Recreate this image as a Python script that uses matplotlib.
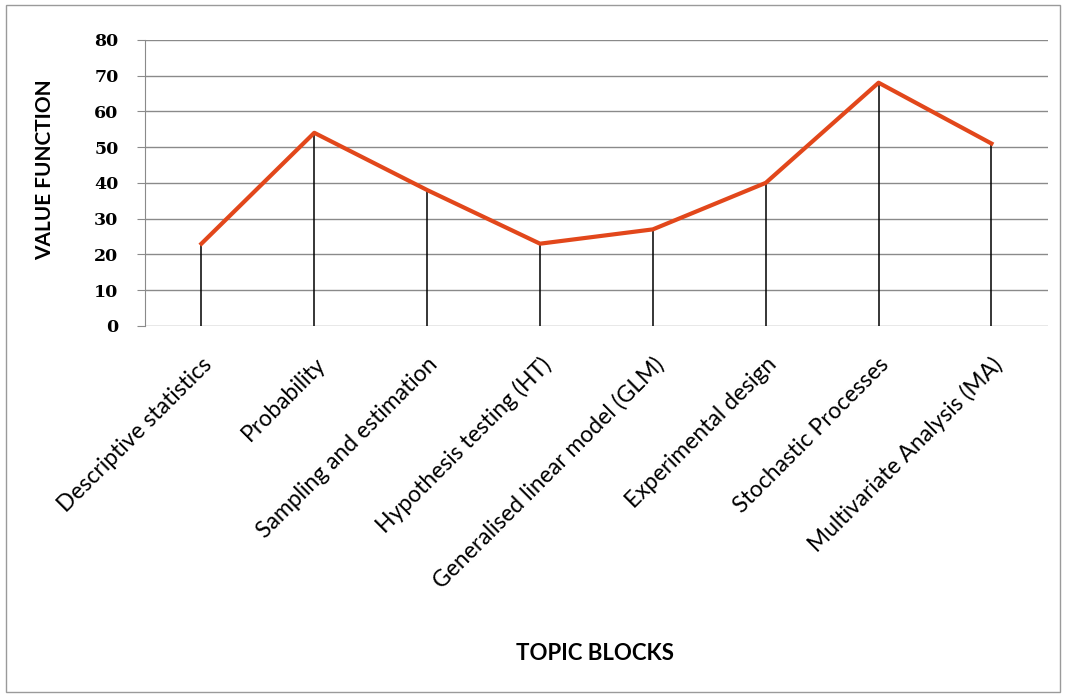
import numpy as np
import matplotlib.pyplot as plt
from matplotlib.patches import Rectangle

# данные графика
topics = ['Descriptive statistics', 'Probability', 'Sampling and estimation',
          'Hypothesis testing (HT)', 'Generalised linear model (GLM)',
          'Experimental design', 'Stochastic Processes', 'Multivariate Analysis (MA)']
values = [23, 54, 38, 23, 27, 40, 68, 51]
yticks = [0, 10, 20, 30, 40, 50, 60, 70, 80]

fig = plt.figure(figsize=(10.66, 6.98), dpi=100, facecolor='white')
ax = fig.add_axes([0.136, 0.533, 0.847, 0.41])

x = np.arange(len(topics))
# вертикальные линии от точки до нуля
ax.vlines(x, 0, values, color='black', linewidth=1.1, zorder=2)
ax.plot(x, values, color='#E2471B', linewidth=3.0, solid_joinstyle='round', zorder=3)

ax.set_xlim(-0.5, len(topics) - 0.5)
ax.set_ylim(0, 80)
ax.set_yticks(yticks)
ax.set_yticklabels([str(v) for v in yticks], fontfamily='DejaVu Serif',
                   fontweight='bold', fontsize=12.5)
ax.yaxis.grid(True, color='#8a8a8a', linewidth=1)
ax.set_axisbelow(True)
ax.tick_params(axis='y', length=6, color='#8a8a8a', pad=13)
ax.tick_params(axis='x', length=0, pad=20)
for s in ['top', 'right', 'bottom']:
    ax.spines[s].set_visible(False)
ax.spines['left'].set_color('#8a8a8a')

ax.set_xticks(x)
ax.set_xticklabels(topics, rotation=45, ha='right', rotation_mode='anchor',
                   fontfamily='Lato', fontsize=16.5)

ax.set_ylabel('VALUE FUNCTION', fontfamily='Lato', fontweight='bold', fontsize=15)
ax.yaxis.set_label_coords(-0.099, 0.545)
fig.text(0.558, 0.064, 'TOPIC BLOCKS', ha='center', va='center',
         fontfamily='Lato', fontweight='bold', fontsize=16)

# рамка вокруг всего рисунка
fig.patches.append(Rectangle((0.006, 0.008), 0.988, 0.985, transform=fig.transFigure,
                             fill=False, edgecolor='#9a9a9a', linewidth=1))

fig.savefig('out.png', dpi=100)
